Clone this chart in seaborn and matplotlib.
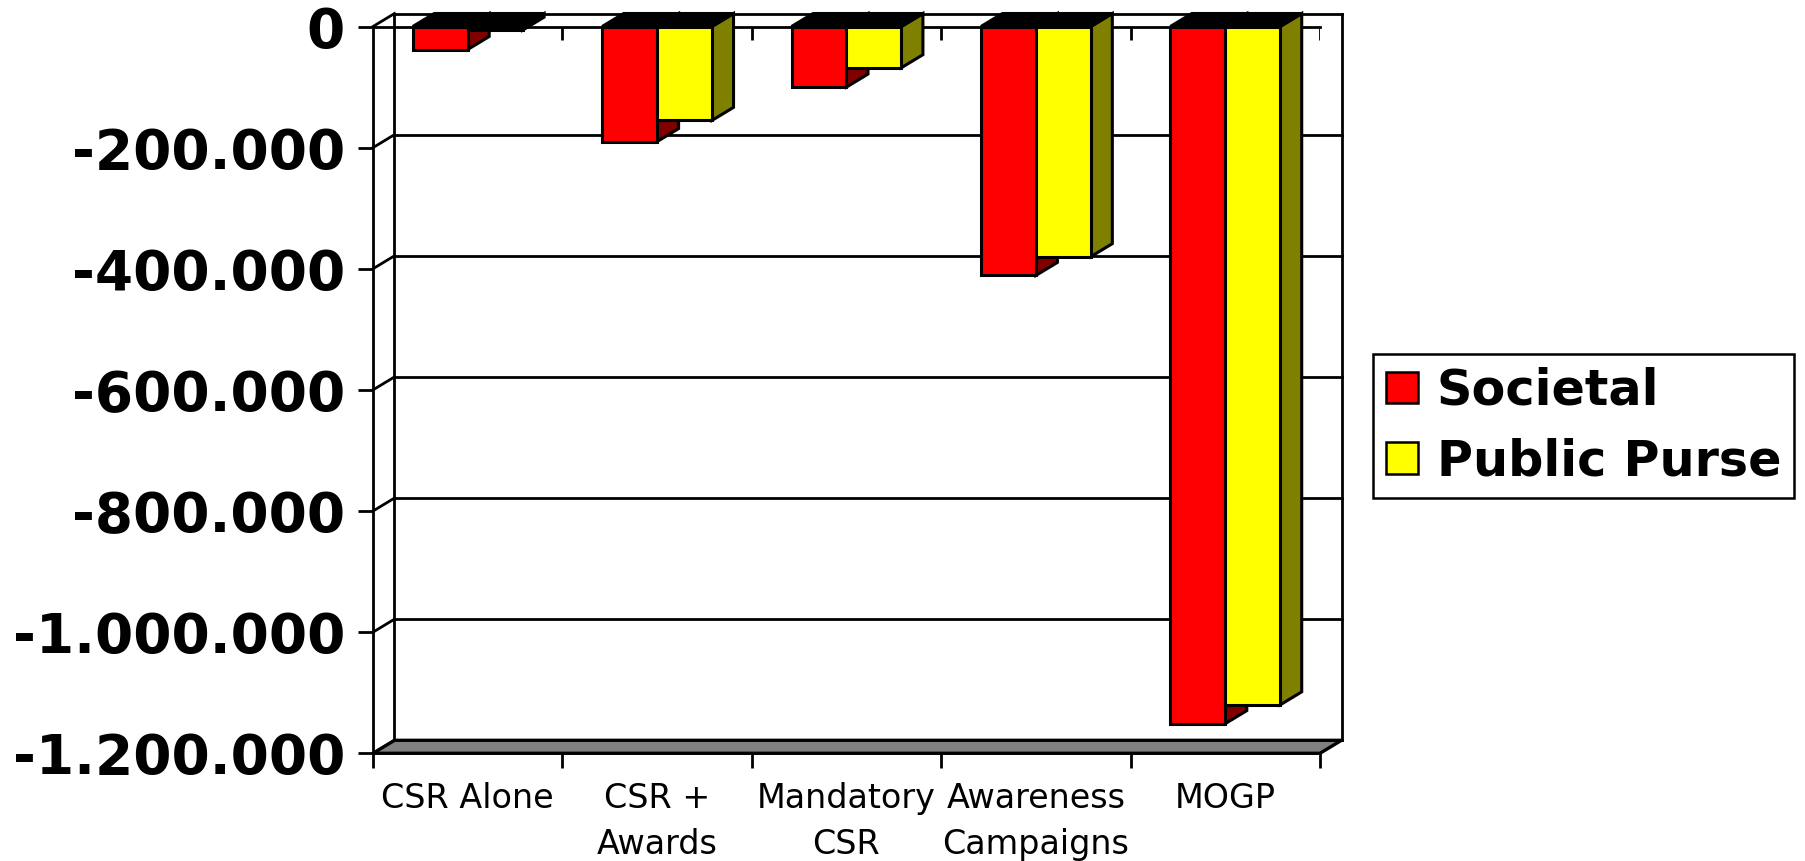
import numpy as np
import pandas as pd
import matplotlib
matplotlib.use("Agg")
import matplotlib.pyplot as plt
from matplotlib.patches import Polygon, Rectangle
import seaborn as sns

# ---- data ----
categories = ["CSR Alone", "CSR +\nAwards", "Mandatory\nCSR", "Awareness\nCampaigns", "MOGP"]
series = ["Societal", "Public Purse"]
societal = [-38000, -190000, -100000, -411000, -1151000]
public_purse = [-6000, -155000, -68000, -380000, -1120000]
y_ticks = [0, -200000, -400000, -600000, -800000, -1000000, -1200000]

front_colors = {"Societal": "#FF0000", "Public Purse": "#FFFF00"}
side_colors = {"Societal": "#800000", "Public Purse": "#808000"}

plt.rcParams["font.family"] = ["DejaVu Sans"]

W, H = 1806, 861
fig = plt.figure(figsize=(W / 100, H / 100), dpi=100)
fig.patch.set_facecolor("white")

# axes box = front plane of the 3-D chart
ax = fig.add_axes([373 / W, 1 - 753.3 / H, (1320 - 373) / W, (753.3 - 26.5) / H])

df = pd.DataFrame({
    "category": categories * 2,
    "series": [series[0]] * len(categories) + [series[1]] * len(categories),
    "value": societal + public_purse,
})

BAR_LW = 2.2
sns.barplot(data=df, x="category", y="value", hue="series", order=categories,
            hue_order=series, palette=front_colors, width=0.58, saturation=1,
            edgecolor="black", linewidth=BAR_LW, errorbar=None, legend=False, ax=ax)

ymin, ymax = y_ticks[-1], y_ticks[0]
xmin, xmax = -0.5, len(categories) - 0.5
ax.set_xlim(xmin, xmax)
ax.set_ylim(ymin, ymax)
ax.set_xlabel("")
ax.set_ylabel("")
ax.set_facecolor("none")

# depth of the 3-D box in pixels, converted to data units
DX, DY = 21.5, 13.0
p0 = ax.transData.transform((0, 0))
p1 = ax.transData.transform((1, -200000))
x_per_px = 1.0 / (p1[0] - p0[0])
y_per_px = 200000.0 / (p0[1] - p1[1])
ddx, ddy = DX * x_per_px, DY * y_per_px


def back(x, y):
    return (x + ddx, y + ddy)


LW = 2.0
# back wall gridlines and side wall diagonals
for v in y_ticks:
    bx0, by = back(xmin, v)
    bx1, _ = back(xmax, v)
    ax.plot([bx0, bx1], [by, by], color="black", lw=LW, zorder=1, clip_on=False,
            solid_capstyle="projecting")
    ax.plot([xmin, bx0], [v, by], color="black", lw=LW, zorder=1, clip_on=False)
for x in (xmin, xmax):
    bx, bt = back(x, ymax)
    _, bb = back(x, ymin)
    ax.plot([bx, bx], [bt, bb], color="black", lw=LW, zorder=1, clip_on=False,
            solid_capstyle="projecting")

# floor
floor = Polygon([(xmin, ymin), (xmax, ymin), back(xmax, ymin), back(xmin, ymin)],
                closed=True, facecolor="#808080", edgecolor="black", lw=2.4,
                zorder=1.5, clip_on=False)
ax.add_patch(floor)

# category axis crossing at zero (front), with ticks hanging down
bounds = np.arange(xmin, xmax + 0.01, 1.0)
ax.plot([xmin, xmax], [0, 0], color="black", lw=LW, zorder=1.2, clip_on=False)
ax.vlines(bounds[1:], 0, -13.5 * y_per_px, color="black", lw=LW, zorder=1.2)

# 3-D side and top faces of every bar
for k, (cont, name) in enumerate(zip(ax.containers, series)):
    base_z = 2 + 1.5 * k
    for bar in cont:
        x0 = bar.get_x()
        x1 = x0 + bar.get_width()
        v = bar.get_height()
        bar.set_zorder(base_z + 1)
        side = Polygon([(x1, 0), (x1, v), back(x1, v), back(x1, 0)], closed=True,
                       facecolor=side_colors[name], edgecolor="black", lw=BAR_LW,
                       zorder=base_z, clip_on=False)
        top = Polygon([(x0, 0), (x1, 0), back(x1, 0), back(x0, 0)], closed=True,
                      facecolor="black", edgecolor="black", lw=BAR_LW,
                      zorder=base_z, clip_on=False)
        ax.add_patch(side)
        ax.add_patch(top)

# spines and ticks
for s in ("top", "right", "bottom"):
    ax.spines[s].set_visible(False)
ax.spines["left"].set_linewidth(LW)
ax.spines["left"].set_color("black")


def fmt(v):
    return f"{int(v):,}".replace(",", ".")


ax.set_yticks(y_ticks, labels=[fmt(v) for v in y_ticks], fontsize=39.5, fontweight="bold")
ax.tick_params(axis="y", left=True, length=10.8, width=LW, pad=9.4, color="black",
               labelcolor="black")

ax.set_xticks(range(len(categories)), labels=categories, fontsize=24)
for t in ax.get_xticklabels():
    t.set_linespacing(1.5)
ax.set_xticks(bounds, minor=True)
ax.tick_params(axis="x", which="major", length=0, pad=21, labelcolor="black")
ax.tick_params(axis="x", which="minor", bottom=True, length=10.5, width=LW,
               direction="out", color="black")

# legend
handles = [Rectangle((0, 0), 1, 1, facecolor=front_colors[s], edgecolor="black", lw=1.8)
           for s in series]
leg = fig.legend(handles, series, loc="upper left",
                 bbox_to_anchor=(1373 / W, 1 - 354 / H), bbox_transform=fig.transFigure,
                 frameon=True, fancybox=False, framealpha=1, edgecolor="black",
                 prop={"weight": "bold", "size": 35.5}, handlelength=0.66,
                 handleheight=0.6, handletextpad=0.37, labelspacing=0.46,
                 borderpad=0.26, borderaxespad=0)
leg.get_frame().set_linewidth(1.8)

fig.savefig("out.png", dpi=100, facecolor="white")
